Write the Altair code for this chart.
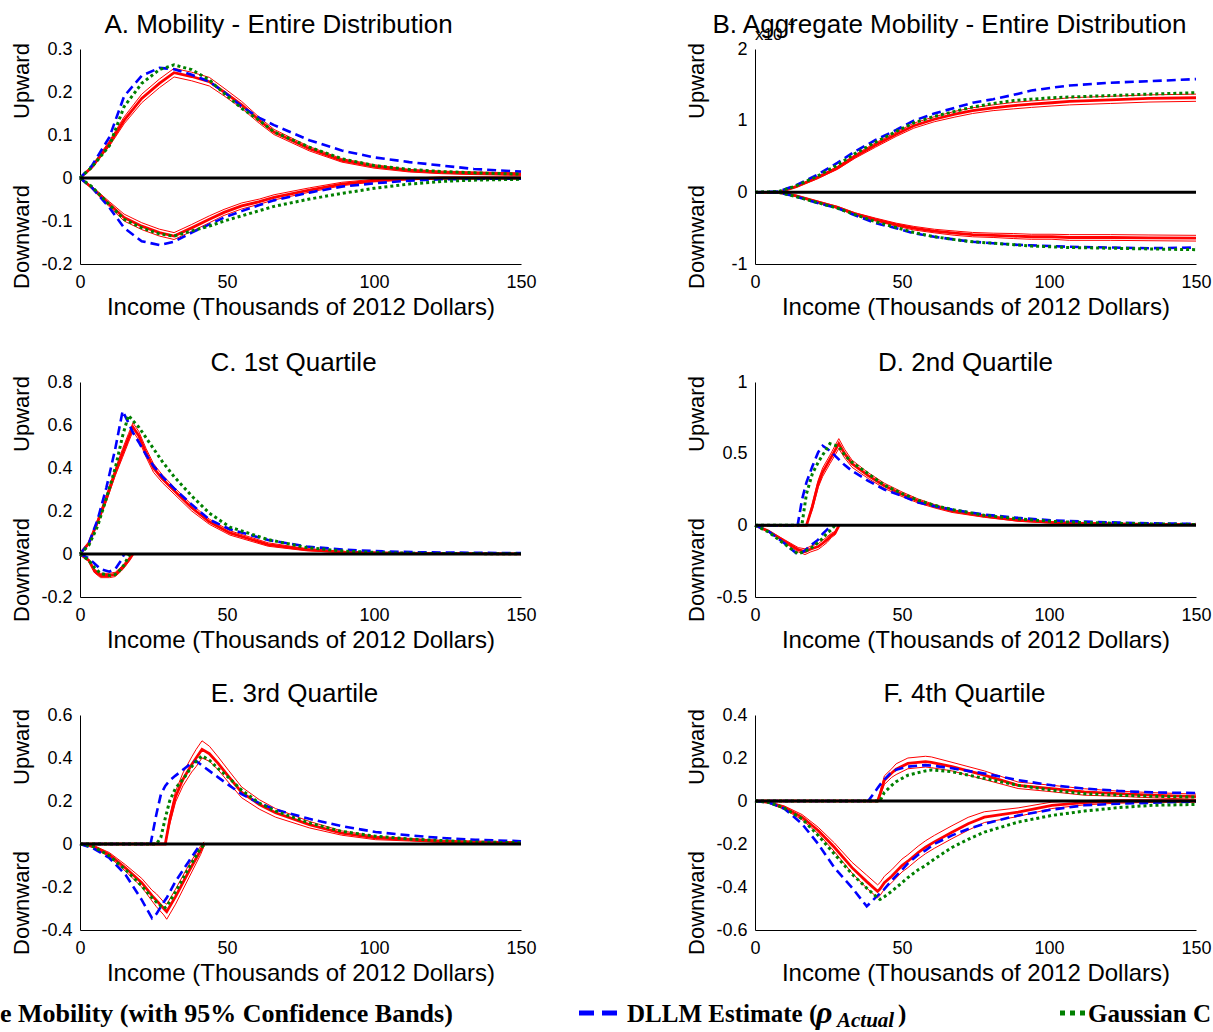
import altair as alt
import pandas as pd

X_TICKS = [0, 50, 100, 150]
X_TITLE = "Income (Thousands of 2012 Dollars)"

# ---------------- Panel A ----------------
A_X = [0, 4, 10, 15, 21, 27, 32, 38, 44, 49, 55, 61, 66, 78, 89, 100, 112, 123, 134, 150]
A_UP_RED = [0, 0.025, 0.08, 0.134, 0.185, 0.22, 0.245, 0.236, 0.224, 0.2, 0.17, 0.134, 0.107, 0.068, 0.041, 0.027, 0.017, 0.013, 0.011, 0.009]
A_UP_BAND = [0, 0.003, 0.006, 0.008, 0.01, 0.01, 0.01, 0.01, 0.01, 0.009, 0.008, 0.007, 0.006, 0.005, 0.004, 0.004, 0.003, 0.003, 0.003, 0.003]
A_UP_BLUE = [0, 0.028, 0.095, 0.19, 0.238, 0.256, 0.253, 0.24, 0.224, 0.2, 0.166, 0.14, 0.123, 0.088, 0.064, 0.048, 0.037, 0.029, 0.021, 0.015]
A_UP_GREEN = [0, 0.025, 0.075, 0.166, 0.22, 0.252, 0.263, 0.252, 0.228, 0.197, 0.162, 0.134, 0.107, 0.072, 0.045, 0.029, 0.02, 0.015, 0.012, 0.009]
A_DN_RED = [0, -0.022, -0.061, -0.092, -0.112, -0.127, -0.135, -0.116, -0.096, -0.08, -0.065, -0.055, -0.045, -0.028, -0.014, -0.006, -0.002, 0, 0, 0]
A_DN_BAND = [0, 0.003, 0.006, 0.008, 0.008, 0.008, 0.008, 0.008, 0.008, 0.007, 0.007, 0.006, 0.006, 0.005, 0.004, 0.003, 0.002, 0.002, 0.002, 0.002]
A_DN_BLUE = [0, -0.022, -0.069, -0.116, -0.147, -0.156, -0.148, -0.127, -0.108, -0.092, -0.077, -0.063, -0.052, -0.034, -0.02, -0.0125, -0.006, -0.003, -0.002, -0.0015]
A_DN_GREEN = [0, -0.02, -0.062, -0.096, -0.116, -0.13, -0.135, -0.123, -0.112, -0.1, -0.088, -0.076, -0.066, -0.049, -0.036, -0.024, -0.014, -0.008, -0.005, -0.003]

# ---------------- Panel B (x10^4) ----------------
B_X = [0, 8, 14, 21, 28, 34, 41, 48, 54, 61, 68, 74, 81, 88, 94, 101, 107, 121, 134, 150]
B_UP_RED = [0, 0, 0.08, 0.2, 0.34, 0.5, 0.66, 0.81, 0.93, 1.02, 1.09, 1.14, 1.18, 1.21, 1.23, 1.25, 1.27, 1.29, 1.31, 1.32]
B_UP_BAND = [0, 0, 0.01, 0.015, 0.02, 0.025, 0.03, 0.03, 0.035, 0.035, 0.04, 0.04, 0.04, 0.045, 0.045, 0.045, 0.05, 0.05, 0.05, 0.05]
B_UP_BLUE = [0, 0.01, 0.1, 0.24, 0.41, 0.57, 0.73, 0.87, 1.0, 1.1, 1.18, 1.25, 1.3, 1.36, 1.42, 1.46, 1.49, 1.53, 1.55, 1.58]
B_UP_GREEN = [0, 0.01, 0.09, 0.22, 0.38, 0.54, 0.7, 0.85, 0.97, 1.06, 1.13, 1.19, 1.24, 1.28, 1.3, 1.32, 1.33, 1.35, 1.37, 1.39]
B_DN_RED = [0, 0, -0.05, -0.13, -0.21, -0.3, -0.38, -0.45, -0.5, -0.54, -0.57, -0.59, -0.6, -0.61, -0.62, -0.62, -0.63, -0.63, -0.635, -0.64]
B_DN_BAND = [0, 0, 0.01, 0.01, 0.015, 0.015, 0.02, 0.02, 0.025, 0.025, 0.03, 0.03, 0.03, 0.035, 0.035, 0.035, 0.04, 0.04, 0.04, 0.04]
B_DN_BLUE = [0, 0, -0.06, -0.145, -0.22, -0.32, -0.43, -0.5, -0.57, -0.62, -0.66, -0.69, -0.71, -0.73, -0.74, -0.75, -0.76, -0.77, -0.78, -0.77]
B_DN_GREEN = [0, 0, -0.06, -0.14, -0.22, -0.31, -0.41, -0.49, -0.56, -0.62, -0.66, -0.69, -0.71, -0.73, -0.75, -0.76, -0.77, -0.78, -0.79, -0.8]

# ---------------- Panel C ----------------
C_UX = [0, 3, 6, 9, 12, 14.5, 16.5, 18, 20, 22.5, 25, 28, 32, 38, 44, 51, 64, 77, 90, 103, 116, 150]
C_UP_RED = [0, 0.05, 0.15, 0.26, 0.38, 0.47, 0.54, 0.59, 0.55, 0.47, 0.4, 0.35, 0.295, 0.215, 0.15, 0.098, 0.044, 0.02, 0.009, 0.005, 0.003, 0.001]
C_UP_BAND = [0, 0.005, 0.01, 0.015, 0.015, 0.02, 0.02, 0.02, 0.02, 0.02, 0.02, 0.018, 0.016, 0.015, 0.012, 0.01, 0.008, 0.005, 0.003, 0.002, 0.002, 0.001]
C_UP_BLUE = [0, 0.05, 0.16, 0.31, 0.49, 0.665, 0.61, 0.565, 0.52, 0.46, 0.41, 0.36, 0.305, 0.23, 0.16, 0.115, 0.065, 0.035, 0.02, 0.012, 0.008, 0.004]
C_UP_GREEN = [0, 0.04, 0.13, 0.26, 0.4, 0.55, 0.645, 0.62, 0.59, 0.54, 0.49, 0.43, 0.36, 0.27, 0.19, 0.125, 0.067, 0.03, 0.013, 0.006, 0.003, 0.001]
C_DX = [0, 3, 5, 7, 10, 12, 14, 15, 17, 18]
C_DN_RED = [0, -0.03, -0.08, -0.1, -0.1, -0.095, -0.07, -0.055, -0.02, 0]
C_DN_BAND = [0, 0.005, 0.008, 0.01, 0.01, 0.01, 0.01, 0.01, 0.008, 0]
C_DN_BLUE = [0, -0.02, -0.045, -0.07, -0.082, -0.07, -0.03, 0, None, None]
C_DN_GREEN = [0, -0.03, -0.065, -0.09, -0.1, -0.095, -0.07, -0.05, 0, None]

# ---------------- Panel D ----------------
D_UX = [0, 14.5, 16, 17.5, 19.5, 21.5, 23, 25.5, 28.5, 30.5, 33, 38.5, 44, 50, 55.5, 61, 67, 78, 89.5, 101, 112, 123.5, 135, 150]
D_UP_RED = [0, 0, 0, 0, 0.13, 0.29, 0.37, 0.46, 0.57, 0.5, 0.43, 0.347, 0.276, 0.217, 0.17, 0.134, 0.1, 0.064, 0.035, 0.021, 0.014, 0.01, 0.007, 0.005]
D_UP_BAND = [0, 0, 0, 0, 0.02, 0.025, 0.03, 0.03, 0.035, 0.03, 0.025, 0.02, 0.018, 0.016, 0.014, 0.012, 0.01, 0.008, 0.006, 0.005, 0.004, 0.003, 0.003, 0.003]
D_UP_BLUE = [0, 0, 0.18, 0.3, 0.41, 0.51, 0.555, 0.52, 0.46, 0.42, 0.38, 0.31, 0.25, 0.205, 0.16, 0.134, 0.11, 0.075, 0.052, 0.035, 0.026, 0.019, 0.014, 0.01]
D_UP_GREEN = [0, 0, 0.01, 0.22, 0.36, 0.44, 0.49, 0.57, 0.55, 0.49, 0.44, 0.36, 0.28, 0.222, 0.175, 0.14, 0.11, 0.07, 0.045, 0.028, 0.019, 0.014, 0.01, 0.006]
D_DX = [0, 4.5, 10, 14.7, 17, 19, 21.5, 23, 24.5, 26, 27.2, 28.6]
D_DN_RED = [0, -0.04, -0.11, -0.17, -0.184, -0.165, -0.148, -0.125, -0.1, -0.07, -0.055, 0]
D_DN_BAND = [0, 0.005, 0.01, 0.015, 0.02, 0.02, 0.02, 0.02, 0.02, 0.015, 0.012, 0]
D_DN_BLUE = [0, -0.04, -0.125, -0.207, -0.175, -0.14, -0.1, -0.06, -0.03, 0, None, None]
D_DN_GREEN = [0, -0.045, -0.13, -0.2, -0.18, -0.16, -0.12, -0.09, -0.055, -0.03, 0, None]

# ---------------- Panel E ----------------
E_UX = [0, 24, 26, 27.5, 29, 30.5, 32.5, 35, 38, 39.5, 41.5, 44, 47, 50.5, 55, 61, 66.5, 78, 89, 100.5, 112, 123, 134.5, 150]
E_UP_RED = [0, 0, 0, 0, 0, 0.11, 0.22, 0.3, 0.37, 0.4, 0.44, 0.42, 0.375, 0.315, 0.24, 0.184, 0.145, 0.09, 0.051, 0.028, 0.02, 0.012, 0.009, 0.007]
E_UP_BAND = [0, 0, 0, 0, 0, 0.02, 0.025, 0.03, 0.035, 0.04, 0.04, 0.035, 0.03, 0.028, 0.025, 0.022, 0.02, 0.015, 0.01, 0.008, 0.006, 0.005, 0.004, 0.003]
E_UP_BLUE = [0, 0, 0.14, 0.23, 0.27, 0.295, 0.318, 0.345, 0.377, 0.386, 0.365, 0.34, 0.31, 0.275, 0.232, 0.19, 0.16, 0.117, 0.083, 0.056, 0.04, 0.028, 0.02, 0.013]
E_UP_GREEN = [0, 0, 0, 0.03, 0.12, 0.2, 0.26, 0.3, 0.36, 0.385, 0.41, 0.39, 0.35, 0.31, 0.25, 0.19, 0.153, 0.098, 0.059, 0.036, 0.023, 0.016, 0.009, 0.006]
E_DX = [0, 4.5, 10, 15.5, 21, 24.5, 26, 28.5, 29.5, 32.5, 37, 41, 42.2, 43]
E_DN_RED = [0, -0.011, -0.05, -0.112, -0.18, -0.24, -0.262, -0.3, -0.315, -0.245, -0.128, -0.03, 0, None]
E_DN_BAND = [0, 0.005, 0.01, 0.015, 0.02, 0.025, 0.03, 0.03, 0.035, 0.035, 0.03, 0.02, 0.01, 0]
E_DN_BLUE = [0, -0.02, -0.065, -0.143, -0.26, -0.345, -0.325, -0.27, -0.25, -0.174, -0.081, 0, None, None]
E_DN_GREEN = [0, -0.012, -0.055, -0.12, -0.195, -0.25, -0.27, -0.3, -0.29, -0.222, -0.112, -0.02, -0.005, 0]

# ---------------- Panel F ----------------
F_UX = [0, 38.5, 41.7, 42.5, 44, 46.5, 48, 52, 58, 60, 67, 78, 89.5, 101, 112, 123.5, 135, 150]
F_UP_RED = [0, 0, 0, 0.03, 0.097, 0.13, 0.148, 0.175, 0.183, 0.18, 0.16, 0.12, 0.073, 0.058, 0.042, 0.034, 0.027, 0.02]
F_UP_BAND = [0, 0, 0, 0.01, 0.02, 0.02, 0.025, 0.025, 0.025, 0.025, 0.02, 0.02, 0.015, 0.015, 0.015, 0.012, 0.012, 0.012]
F_UP_BLUE = [0, 0, 0.06, 0.075, 0.1, 0.136, 0.145, 0.16, 0.167, 0.165, 0.152, 0.128, 0.097, 0.073, 0.058, 0.047, 0.04, 0.037]
F_UP_GREEN = [0, 0, 0, 0, 0.04, 0.073, 0.09, 0.12, 0.14, 0.144, 0.136, 0.105, 0.073, 0.05, 0.034, 0.027, 0.022, 0.018]
F_DX = [0, 4.5, 10, 16, 21.5, 27, 33, 38, 41.7, 42.5, 44, 46.5, 50, 52, 55.5, 58, 61, 67, 72.5, 78, 89.5, 101, 112, 123.5, 135, 150]
F_DN_RED = [0, -0.006, -0.031, -0.075, -0.137, -0.215, -0.31, -0.375, -0.42, -0.41, -0.38, -0.35, -0.3, -0.28, -0.24, -0.215, -0.19, -0.145, -0.106, -0.075, -0.052, -0.02, -0.008, -0.002, 0, 0]
F_DN_BAND = [0, 0.003, 0.008, 0.012, 0.015, 0.02, 0.025, 0.03, 0.03, 0.03, 0.03, 0.03, 0.03, 0.03, 0.03, 0.03, 0.03, 0.03, 0.03, 0.025, 0.02, 0.015, 0.01, 0.008, 0.006, 0.005]
F_DN_BLUE = [0, -0.006, -0.036, -0.106, -0.2, -0.31, -0.403, -0.49, -0.44, -0.43, -0.41, -0.37, -0.32, -0.29, -0.25, -0.23, -0.2, -0.16, -0.13, -0.106, -0.067, -0.04, -0.02, -0.0125, -0.008, -0.002]
F_DN_GREEN = [0, -0.006, -0.033, -0.083, -0.16, -0.247, -0.34, -0.405, -0.45, -0.458, -0.445, -0.42, -0.38, -0.356, -0.32, -0.3, -0.27, -0.216, -0.178, -0.145, -0.098, -0.067, -0.047, -0.031, -0.02, -0.016]

PANELS = [
    dict(title="A. Mobility - Entire Distribution", dx=-22, offset=16, dom=[-0.2, 0.3],
         ticks=[-0.2, -0.1, 0, 0.1, 0.2, 0.3],
         up=(A_X, A_UP_RED, A_UP_BAND, A_UP_BLUE, A_UP_GREEN),
         dn=(A_X, A_DN_RED, A_DN_BAND, A_DN_BLUE, A_DN_GREEN)),
    dict(title="B. Aggregate Mobility - Entire Distribution", dx=-26, offset=16, dom=[-1, 2],
         ticks=[-1, 0, 1, 2],
         up=(B_X, B_UP_RED, B_UP_BAND, B_UP_BLUE, B_UP_GREEN),
         dn=(B_X, B_DN_RED, B_DN_BAND, B_DN_BLUE, B_DN_GREEN)),
    dict(title="C. 1st Quartile", dx=-7, offset=11, dom=[-0.2, 0.8],
         ticks=[-0.2, 0, 0.2, 0.4, 0.6, 0.8],
         up=(C_UX, C_UP_RED, C_UP_BAND, C_UP_BLUE, C_UP_GREEN),
         dn=(C_DX, C_DN_RED, C_DN_BAND, C_DN_BLUE, C_DN_GREEN)),
    dict(title="D. 2nd Quartile", dx=-10, offset=11, dom=[-0.5, 1],
         ticks=[-0.5, 0, 0.5, 1],
         up=(D_UX, D_UP_RED, D_UP_BAND, D_UP_BLUE, D_UP_GREEN),
         dn=(D_DX, D_DN_RED, D_DN_BAND, D_DN_BLUE, D_DN_GREEN)),
    dict(title="E. 3rd Quartile", dx=-6, offset=13, dom=[-0.4, 0.6],
         ticks=[-0.4, -0.2, 0, 0.2, 0.4, 0.6],
         up=(E_UX, E_UP_RED, E_UP_BAND, E_UP_BLUE, E_UP_GREEN),
         dn=(E_DX, E_DN_RED, E_DN_BAND, E_DN_BLUE, E_DN_GREEN)),
    dict(title="F. 4th Quartile", dx=-11, offset=13, dom=[-0.6, 0.4],
         ticks=[-0.6, -0.4, -0.2, 0, 0.2, 0.4],
         up=(F_UX, F_UP_RED, F_UP_BAND, F_UP_BLUE, F_UP_GREEN),
         dn=(F_DX, F_DN_RED, F_DN_BAND, F_DN_BLUE, F_DN_GREEN)),
]

W, H = 441, 215
SANS = "Liberation Sans"
SERIF = "Liberation Serif"
ONE = pd.DataFrame({"a": [0]})


def build_df(p):
    rows = []
    for d, (xs, red, band, blue, green) in (("up", p["up"]), ("dn", p["dn"])):
        for i, x in enumerate(xs):
            if red[i] is not None:
                rows.append(dict(x=x, y=red[i], kind="red", id=d))
                rows.append(dict(x=x, y=red[i] - band[i], kind="band", id=d + "lo"))
                rows.append(dict(x=x, y=red[i] + band[i], kind="band", id=d + "hi"))
            if blue[i] is not None:
                rows.append(dict(x=x, y=blue[i], kind="blue", id=d))
            if green[i] is not None:
                rows.append(dict(x=x, y=green[i], kind="green", id=d))
    return pd.DataFrame(rows)


def text(t, x, y, **kw):
    return alt.Chart(ONE).mark_text(text=t, **kw).encode(x=alt.value(x), y=alt.value(y))


def make_panel(p, extras):
    df = build_df(p)
    xenc = alt.X("x:Q", scale=alt.Scale(domain=[0, 150], nice=False, zero=False),
                 axis=alt.Axis(values=X_TICKS, title=X_TITLE, labelFlush=False,
                               labelExpr="'' + datum.value"))
    yenc = alt.Y("y:Q", scale=alt.Scale(domain=p["dom"], nice=False, zero=False),
                 axis=alt.Axis(values=p["ticks"], title="", labelExpr="'' + datum.value"))
    band = alt.Chart(df[df.kind == "band"]).mark_line(color="#ff0000", strokeWidth=1).encode(
        x=xenc, y=yenc, detail="id:N")
    red = alt.Chart(df[df.kind == "red"]).mark_line(color="#ff0000", strokeWidth=2.8).encode(
        x=xenc, y=yenc, detail="id:N")
    blue = alt.Chart(df[df.kind == "blue"]).mark_line(
        color="#0000ff", strokeWidth=2.6, strokeDash=[9, 5]).encode(x=xenc, y=yenc, detail="id:N")
    green = alt.Chart(df[df.kind == "green"]).mark_line(
        color="#008000", strokeWidth=3, strokeDash=[3, 3]).encode(x=xenc, y=yenc, detail="id:N")
    zero = alt.Chart(pd.DataFrame({"y": [0]})).mark_rule(color="black", strokeWidth=3).encode(y="y:Q")
    up = text("Upward", -58, 32, angle=270, fontSize=22, font=SANS, align="center",
              baseline="middle", color="black")
    dn = text("Downward", -58, 188, angle=270, fontSize=22, font=SANS, align="center",
              baseline="middle", color="black")
    title = text(p["title"], W / 2 + p["dx"], -p["offset"], fontSize=26, font=SANS,
                 align="center", baseline="alphabetic", color="black")
    return alt.layer(band, red, blue, green, zero, up, dn, title, *extras).properties(
        width=W, height=H)


anchor = alt.Chart(ONE).mark_point(opacity=0, size=4, filled=True).encode(
    x=alt.value(-79), y=alt.value(-48))

b_extra = [
    text("x10", 0, -9, fontSize=17, font=SANS, align="left", baseline="alphabetic", color="black"),
    text("4", 33, -22, fontSize=12, font=SANS, align="left", baseline="alphabetic", color="black"),
]

# Legend (placed relative to panel E plot origin)
LEG_Y = 307
leg_extra = [
    text("e Mobility (with 95% Confidence Bands)", -80, LEG_Y, fontSize=26, font=SERIF,
         fontWeight="bold", align="left", baseline="alphabetic", color="black"),
    alt.Chart(ONE).mark_rule(color="#0000ff", strokeWidth=5, strokeDash=[15, 8]).encode(
        x=alt.value(499), x2=alt.value(537), y=alt.value(LEG_Y - 9)),
    text("DLLM Estimate (", 547, LEG_Y, fontSize=25, font=SERIF, fontWeight="bold",
         align="left", baseline="alphabetic", color="black"),
    text("\u03c1", 736, LEG_Y + 1, fontSize=32, font=SERIF, fontWeight="bold", fontStyle="italic",
         align="left", baseline="alphabetic", color="black"),
    text("Actual", 757, LEG_Y + 5, fontSize=21, font=SERIF, fontWeight="bold", fontStyle="italic",
         align="left", baseline="alphabetic", color="black"),
    text(")", 818, LEG_Y, fontSize=25, font=SERIF, fontWeight="bold",
         align="left", baseline="alphabetic", color="black"),
    alt.Chart(ONE).mark_rule(color="#008000", strokeWidth=5, strokeDash=[5, 5]).encode(
        x=alt.value(980), x2=alt.value(1006), y=alt.value(LEG_Y - 9)),
    text("Gaussian Copula Estimate", 1008, LEG_Y, fontSize=25, font=SERIF, fontWeight="bold",
         align="left", baseline="alphabetic", color="black", limit=128, ellipsis="\u200b"),
]

extras = [[anchor], b_extra, [], [], leg_extra, []]
panels = [make_panel(p, e) for p, e in zip(PANELS, extras)]

chart = alt.concat(*panels, columns=2, spacing={"row": 118, "column": 234}, bounds="flush").properties(
    padding=0
).configure_view(strokeWidth=0).configure_axis(
    grid=False, domainColor="#000", domainWidth=1, tickSize=0, labelPadding=9,
    labelFont=SANS, titleFont=SANS, labelFontSize=18, titleFontSize=24,
    titleFontWeight="normal", labelColor="#000", titleColor="#000", labelOverlap=False
).configure_axisY(labelPadding=8).configure_axisX(titlePadding=4)

chart.save("out.html", embed_options={"renderer": "svg", "actions": False})
